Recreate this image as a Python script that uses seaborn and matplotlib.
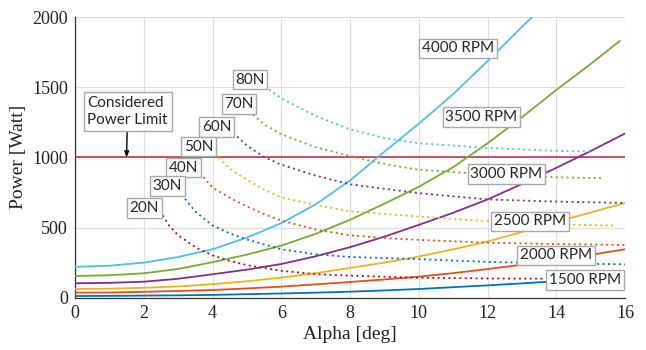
import matplotlib
matplotlib.use("Agg")
import matplotlib.pyplot as plt
import pandas as pd
import seaborn as sns

# ---------------- data ----------------
RPM_NAMES = ["1500 RPM", "2000 RPM", "2500 RPM", "3000 RPM", "3500 RPM", "4000 RPM"]
ALPHA_GRID = [0, 1, 2, 3, 4, 5, 6, 7, 8, 9, 10, 11, 12, 13, 14, 15, 16]
P_1500 = [12, 13, 15, 17, 20, 25, 30, 36, 43, 52, 62, 75, 88, 102, 118, 134, 150]
P_2000 = [36, 37, 42, 48, 55, 66, 79, 95, 112, 130, 150, 175, 204, 235, 269, 305, 345]
P_2500 = [62, 64, 71, 80, 96, 117, 143, 175, 212, 250, 293, 345, 400, 468, 540, 607, 675]
P_3000 = [103, 106, 114, 135, 167, 200, 240, 295, 360, 435, 519, 605, 700, 810, 925, 1045, 1170]
ALPHA_3500 = [0, 1, 2, 3, 4, 5, 6, 7, 8, 9, 10, 11, 12, 13, 14, 15, 15.85]
P_3500 = [155, 160, 174, 205, 253, 307, 371, 455, 555, 670, 790, 930, 1100, 1285, 1480, 1665, 1830]
ALPHA_4000 = [0, 1, 2, 3, 4, 5, 6, 7, 8, 9, 10, 11, 12, 13, 13.3]
P_4000 = [220, 228, 250, 290, 345, 428, 531, 665, 835, 1040, 1240, 1450, 1685, 1930, 2000]

THRUST_NAMES = ["20N", "30N", "40N", "50N", "60N", "70N", "80N"]
A_20N = [2.47, 2.75, 3, 3.5, 4, 4.5, 5, 6, 7, 8, 10, 12, 14, 16]
P_20N = [620, 510, 445, 360, 302, 262, 232, 192, 168, 157, 142, 137, 135, 133]
A_30N = [3.1, 3.5, 4, 4.5, 5, 6, 7, 8, 10, 12, 14, 16]
P_30N = [735, 614, 515, 458, 415, 345, 310, 290, 275, 255, 245, 238]
A_40N = [3.63, 4, 4.5, 5, 5.5, 6, 7, 8, 9, 10, 12, 14, 16]
P_40N = [888, 785, 712, 650, 595, 550, 485, 445, 425, 412, 392, 382, 376]
A_50N = [4.07, 4.5, 5, 5.5, 6, 7, 8, 10, 12, 14, 15.7]
P_50N = [1024, 920, 840, 770, 715, 660, 616, 578, 545, 522, 514]
A_60N = [4.6, 5, 5.5, 6, 7, 8, 10, 12, 14, 16]
P_60N = [1174, 1085, 1002, 948, 870, 808, 745, 700, 685, 675]
A_70N = [5.18, 5.5, 6, 7, 8, 9, 10, 12, 14, 15.36]
P_70N = [1305, 1235, 1165, 1072, 1010, 952, 912, 878, 858, 852]
A_80N = [5.52, 6, 7, 8, 9, 10, 12, 14, 14.97]
P_80N = [1507, 1420, 1295, 1200, 1138, 1100, 1067, 1047, 1042]

POWER_LIMIT = 1000
X_TICKS = [0, 2, 4, 6, 8, 10, 12, 14, 16]
Y_TICKS = [0, 500, 1000, 1500, 2000]

# ---------------- styling ----------------
COLORS = {
    "1500 RPM": "#0072BD", "2000 RPM": "#D95319", "2500 RPM": "#EDB120",
    "3000 RPM": "#7E2F8E", "3500 RPM": "#77AC30", "4000 RPM": "#4DBEEE",
    "20N": "#A2142F", "30N": "#0072BD", "40N": "#D95319", "50N": "#EDB120",
    "60N": "#7E2F8E", "70N": "#77AC30", "80N": "#4DBEEE",
}

rows = []
rpm_x = [ALPHA_GRID, ALPHA_GRID, ALPHA_GRID, ALPHA_GRID, ALPHA_3500, ALPHA_4000]
rpm_y = [P_1500, P_2000, P_2500, P_3000, P_3500, P_4000]
for name, xs, ys in zip(RPM_NAMES, rpm_x, rpm_y):
    for a, p in zip(xs, ys):
        rows.append((a, p, name, "rpm"))
th_x = [A_20N, A_30N, A_40N, A_50N, A_60N, A_70N, A_80N]
th_y = [P_20N, P_30N, P_40N, P_50N, P_60N, P_70N, P_80N]
for name, xs, ys in zip(THRUST_NAMES, th_x, th_y):
    for a, p in zip(xs, ys):
        rows.append((a, p, name, "thrust"))
df = pd.DataFrame(rows, columns=["alpha", "power", "series", "kind"])

sns.set_style("white")
plt.rcParams["font.family"] = ["Liberation Serif", "DejaVu Serif"]

fig = plt.figure(figsize=(6.46, 3.5), dpi=100)
ax = fig.add_axes([0.1161, 0.1494, 0.9675 - 0.1161, 0.9514 - 0.1494])

ax.axhline(POWER_LIMIT, color="#C8324A", lw=1.2, zorder=3)

sns.lineplot(data=df, x="alpha", y="power", hue="series", palette=COLORS,
             style="kind", dashes={"rpm": "", "thrust": (1.1, 1.9)},
             estimator=None, sort=True, legend=False, lw=1.3, ax=ax, zorder=4)

ax.set_xlim(0, 16)
ax.set_ylim(0, 2000)
ax.set_xticks(X_TICKS)
ax.set_yticks(Y_TICKS)
ax.grid(True, color="#DEDEDE", lw=0.8)
ax.set_axisbelow(True)
for s in ["top", "right"]:
    ax.spines[s].set_visible(False)
for s in ["left", "bottom"]:
    ax.spines[s].set_color("#333333")
    ax.spines[s].set_linewidth(0.9)
ax.tick_params(direction="in", length=4, width=0.8, color="#333333",
               labelsize=13, pad=5, labelcolor="#222222")
ax.set_xlabel("Alpha [deg]", fontsize=14, color="#222222", labelpad=3)
ax.set_ylabel("Power [Watt]", fontsize=14, color="#222222", labelpad=4)

LABEL_FONT = ["Lato", "DejaVu Sans"]
box = dict(boxstyle="square,pad=0.18", fc="white", ec="#A8A8A8", lw=1.0)

rpm_label_pos = {
    "4000 RPM": (11.14, 1776), "3500 RPM": (11.82, 1289), "3000 RPM": (12.55, 882),
    "2500 RPM": (13.23, 543), "2000 RPM": (14.0, 301), "1500 RPM": (14.83, 126),
}
for name, (x, y) in rpm_label_pos.items():
    ax.text(x, y, name, family=LABEL_FONT, fontsize=11, ha="center", va="center",
            bbox=box, zorder=6)

th_label_pos = {
    "80N": (5.09, 1554), "70N": (4.77, 1379), "60N": (4.12, 1215), "50N": (3.6, 1076),
    "40N": (3.15, 926), "30N": (2.69, 796), "20N": (2.01, 638),
}
for name, (x, y) in th_label_pos.items():
    ax.text(x, y, name, family=LABEL_FONT, fontsize=11, ha="center", va="center",
            bbox=box, zorder=6)

ax.annotate("Considered\nPower Limit", xy=(1.5, POWER_LIMIT), xytext=(1.53, 1326),
            family=LABEL_FONT, fontsize=11, ha="center", va="center",
            multialignment="left", linespacing=1.25,
            bbox=dict(boxstyle="square,pad=0.25", fc="white", ec="#A8A8A8", lw=1.0),
            arrowprops=dict(arrowstyle="-|>,head_length=0.3,head_width=0.12",
                            color="black", lw=1.0, shrinkA=0, shrinkB=0),
            zorder=6)

fig.savefig("out.png", dpi=100)
